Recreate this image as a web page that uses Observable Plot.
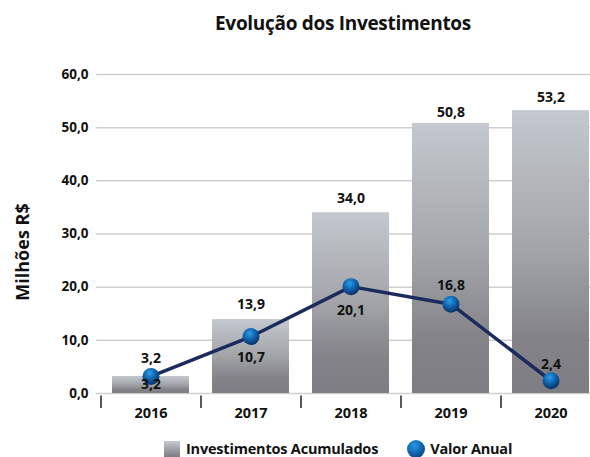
<!DOCTYPE html>
<html>
<head>
<meta charset="utf-8">
<script src="https://cdn.jsdelivr.net/npm/d3@7"></script>
<script src="https://cdn.jsdelivr.net/npm/@observablehq/plot@0.6"></script>
<style>
  html, body { margin: 0; padding: 0; background: #fff; }
  body { width: 590px; height: 457px; position: relative; overflow: hidden; font-family: "Open Sans", sans-serif; }
  #title { position: absolute; left: 96px; width: 494px; top: 10px; text-align: center; font-size: 19px; font-weight: 700; color: #111; letter-spacing: -0.3px; }
  #ylabel { position: absolute; left: 22px; top: 252px; transform: translate(-50%, -50%) rotate(-90deg); white-space: nowrap; font-size: 18px; font-weight: 700; color: #111; }
  #chart { position: absolute; left: 0; top: 44px; }
  #legend { position: absolute; top: 439px; left: 164px; display: flex; align-items: center; font-size: 14.5px; font-weight: 700; color: #111; letter-spacing: -0.2px; }
  .sw-bar { width: 16px; height: 16px; background: linear-gradient(#c3c9cf, #7c7c82); margin-right: 6px; }
  .sw-dot { width: 18px; height: 18px; border-radius: 50%; background: radial-gradient(circle at 40% 30%, #2a9ae0 0%, #1068b2 45%, #0a2f66 100%); margin-left: 29px; margin-right: 5px; }
</style>
</head>
<body>
<div id="title">Evolução dos Investimentos</div>
<div id="ylabel"></div>
<div id="chart"></div>
<div id="legend">
  <div class="sw-bar"></div><span id="lg0"></span>
  <div class="sw-dot"></div><span id="lg1"></span>
</div>
<script>
const years = ["2016", "2017", "2018", "2019", "2020"];
const acumulados = [3.2, 13.9, 34.0, 50.8, 53.2];
const anual = [3.2, 10.7, 20.1, 16.8, 2.4];
const yTicks = [0, 10, 20, 30, 40, 50, 60];
const seriesNames = ["Investimentos Acumulados", "Valor Anual"];
const yLabel = "Milhões R$";

// label placement (style only): offsets in pixels
const barLabelDy = [8, -15, -14, -11, -13];
const lineLabelDy = [-18, 21, 24, -19, -16];

document.getElementById("ylabel").textContent = yLabel;
document.getElementById("lg0").textContent = seriesNames[0];
document.getElementById("lg1").textContent = seriesNames[1];

const fmt = v => v.toFixed(1).replace(".", ",");

const data = years.map((y, i) => ({
  year: y, acc: acumulados[i], an: anual[i], bdy: barLabelDy[i], ldy: lineLabelDy[i]
}));

const font = "'Open Sans', sans-serif";

const marks = [
  Plot.ruleY(yTicks, {y: d => d, stroke: "#cfcfcf", strokeWidth: 1.5}),
  Plot.barY(data, {x: "year", y: "acc", fill: "url(#barGrad)"}),
  Plot.ruleX(data, {x: "year", dx: -50, y1: -0.45, y2: -2.8, stroke: "#222", strokeWidth: 1.5}),
  Plot.line(data, {x: "year", y: "an", stroke: "#1c2b5e", strokeWidth: 3.5}),
  Plot.dot(data, {x: "year", y: "an", r: 8.5, fill: "url(#dotGrad)", stroke: "none"})
];
data.forEach(d => {
  marks.push(Plot.text([d], {x: "year", y: "acc", text: dd => fmt(dd.acc), dy: d.bdy,
    fontSize: 14, fontWeight: 700, fill: "#111"}));
  marks.push(Plot.text([d], {x: "year", y: "an", text: dd => fmt(dd.an), dy: d.ldy,
    fontSize: 14, fontWeight: 700, fill: "#111"}));
});

const chart = Plot.plot({
  width: 590,
  height: 381,
  marginTop: 30,
  marginBottom: 32,
  marginLeft: 96,
  marginRight: 0,
  style: {fontFamily: font, fontSize: "13.5px", fontWeight: 700, color: "#111", overflow: "visible"},
  x: {domain: years, range: [100, 600], paddingInner: 0.23, paddingOuter: 0.115, tickSize: 0, tickPadding: 14, label: null},
  y: {domain: [0, 60], ticks: yTicks, tickFormat: fmt, tickSize: 0, tickPadding: 8, label: null},
  marks
});

d3.select(chart).selectAll("[aria-label='x-axis'] text, [aria-label='x-axis tick label'] text").style("font-size", "14.5px");

const defs = d3.select(chart).insert("defs", ":first-child");
const bg = defs.append("linearGradient").attr("id", "barGrad")
  .attr("x1", 0).attr("y1", 0).attr("x2", 0).attr("y2", 1);
bg.append("stop").attr("offset", "0%").attr("stop-color", "#c3c9cf");
bg.append("stop").attr("offset", "50%").attr("stop-color", "#a2a4a8");
bg.append("stop").attr("offset", "80%").attr("stop-color", "#838388");
bg.append("stop").attr("offset", "100%").attr("stop-color", "#7d7d83");
const dg = defs.append("radialGradient").attr("id", "dotGrad")
  .attr("cx", "0.42").attr("cy", "0.32").attr("r", "0.7").attr("fx", "0.42").attr("fy", "0.3");
dg.append("stop").attr("offset", "0%").attr("stop-color", "#2f9fe6");
dg.append("stop").attr("offset", "45%").attr("stop-color", "#1169b4");
dg.append("stop").attr("offset", "100%").attr("stop-color", "#0a2c63");

document.getElementById("chart").appendChild(chart);
</script>
</body>
</html>
